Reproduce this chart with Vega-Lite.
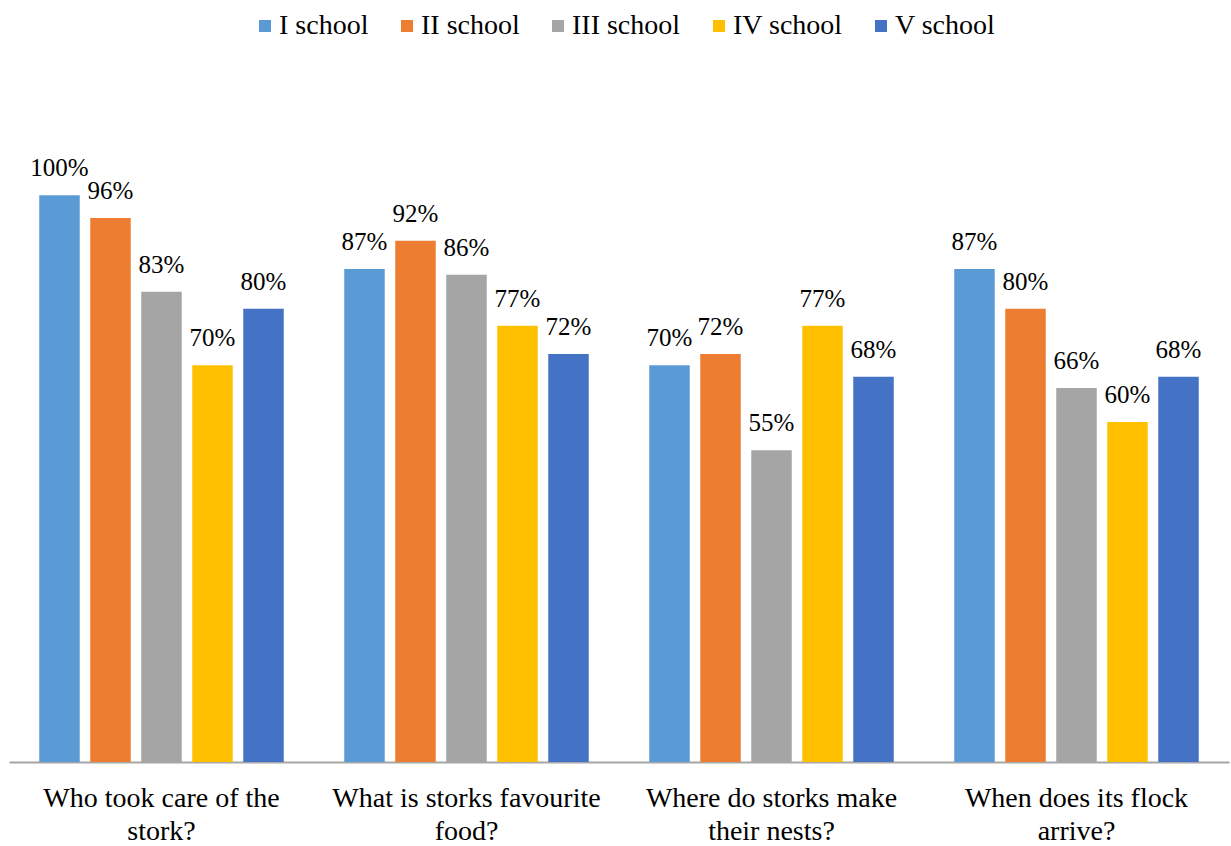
{
  "$schema": "https://vega.github.io/schema/vega-lite/v6.json",
  "width": 1220,
  "height": 680,
  "autosize": "none",
  "padding": {"left": 9, "top": 82, "right": 2, "bottom": 84},
  "background": "white",
  "config": {
    "view": {"stroke": null},
    "font": "Liberation Serif"
  },
  "data": {
    "values": [
      {"question": "Who took care of the stork?", "school": "I school", "value": 1.00},
      {"question": "Who took care of the stork?", "school": "II school", "value": 0.96},
      {"question": "Who took care of the stork?", "school": "III school", "value": 0.83},
      {"question": "Who took care of the stork?", "school": "IV school", "value": 0.70},
      {"question": "Who took care of the stork?", "school": "V school", "value": 0.80},
      {"question": "What is storks favourite food?", "school": "I school", "value": 0.87},
      {"question": "What is storks favourite food?", "school": "II school", "value": 0.92},
      {"question": "What is storks favourite food?", "school": "III school", "value": 0.86},
      {"question": "What is storks favourite food?", "school": "IV school", "value": 0.77},
      {"question": "What is storks favourite food?", "school": "V school", "value": 0.72},
      {"question": "Where do storks make their nests?", "school": "I school", "value": 0.70},
      {"question": "Where do storks make their nests?", "school": "II school", "value": 0.72},
      {"question": "Where do storks make their nests?", "school": "III school", "value": 0.55},
      {"question": "Where do storks make their nests?", "school": "IV school", "value": 0.77},
      {"question": "Where do storks make their nests?", "school": "V school", "value": 0.68},
      {"question": "When does its flock arrive?", "school": "I school", "value": 0.87},
      {"question": "When does its flock arrive?", "school": "II school", "value": 0.80},
      {"question": "When does its flock arrive?", "school": "III school", "value": 0.66},
      {"question": "When does its flock arrive?", "school": "IV school", "value": 0.60},
      {"question": "When does its flock arrive?", "school": "V school", "value": 0.68}
    ]
  },
  "encoding": {
    "x": {
      "field": "question",
      "type": "nominal",
      "sort": null,
      "scale": {"paddingInner": 0, "paddingOuter": 0},
      "axis": {
        "title": null,
        "labelAngle": 0,
        "ticks": false,
        "domain": true,
        "domainColor": "#a6a6a6",
        "domainWidth": 2,
        "labelFont": "Liberation Serif",
        "labelFontSize": 28,
        "labelColor": "#000000",
        "labelPadding": 22,
        "labelLimit": 0,
        "labelLineHeight": 33,
        "labelBaseline": "top",
        "labelExpr": "datum.value == 'Who took care of the stork?' ? ['Who took care of the', 'stork?'] : datum.value == 'What is storks favourite food?' ? ['What is storks favourite', 'food?'] : datum.value == 'Where do storks make their nests?' ? ['Where do storks make', 'their nests?'] : ['When does its flock', 'arrive?']"
      }
    },
    "xOffset": {
      "field": "school",
      "type": "nominal",
      "sort": ["I school", "II school", "III school", "IV school", "V school"],
      "scale": {"paddingInner": 0.206, "paddingOuter": 0.593}
    },
    "y": {
      "field": "value",
      "type": "quantitative",
      "scale": {"domain": [0, 1.2], "nice": false},
      "axis": null
    }
  },
  "layer": [
    {
      "mark": {"type": "bar"},
      "encoding": {
        "color": {
          "field": "school",
          "type": "nominal",
          "sort": ["I school", "II school", "III school", "IV school", "V school"],
          "scale": {
            "domain": ["I school", "II school", "III school", "IV school", "V school"],
            "range": ["#5B9BD5", "#ED7D31", "#A5A5A5", "#FFC000", "#4472C4"]
          },
          "legend": {
            "title": null,
            "orient": "none",
            "legendX": 242,
            "legendY": -70,
            "direction": "horizontal",
            "symbolType": "square",
            "symbolSize": 144,
            "symbolStrokeWidth": 0,
            "labelFont": "Liberation Serif",
            "labelFontSize": 28,
            "labelColor": "#000000",
            "labelOffset": 0,
            "labelLimit": 0,
            "columnPadding": 24
          }
        }
      }
    },
    {
      "mark": {"type": "text", "baseline": "alphabetic", "dy": -19, "font": "Liberation Serif", "fontSize": 25, "color": "#000000"},
      "encoding": {
        "text": {"field": "value", "type": "quantitative", "format": ".0%"}
      }
    }
  ]
}
